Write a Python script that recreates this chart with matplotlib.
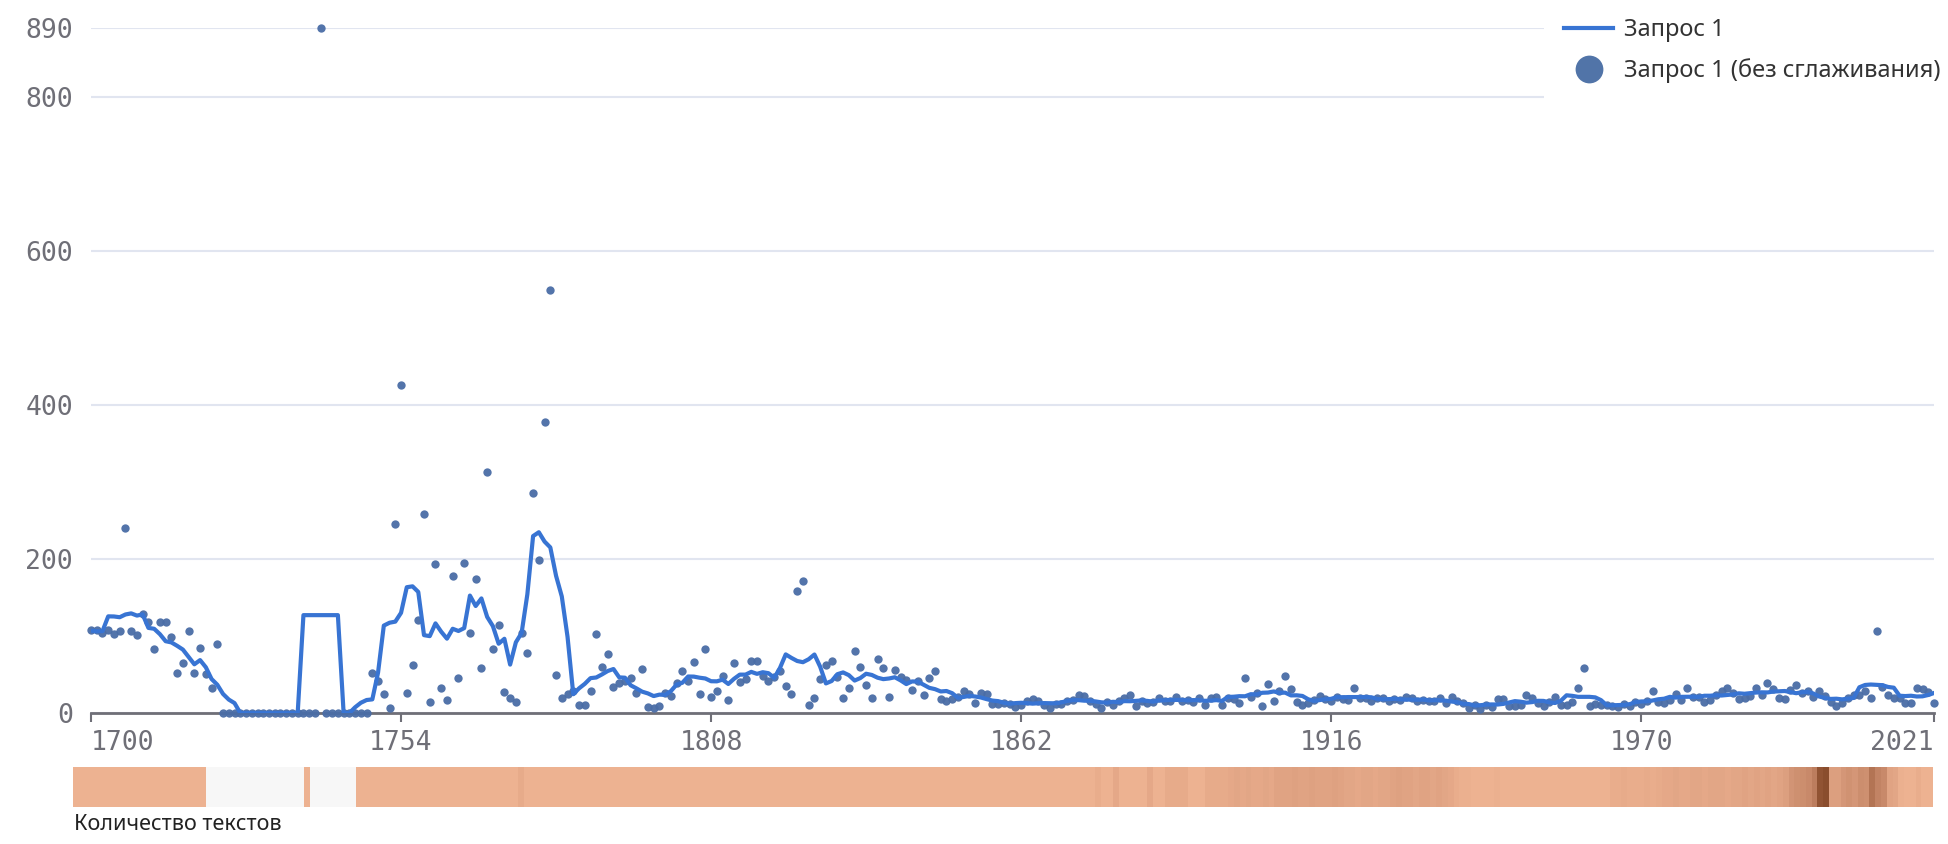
import numpy as np
import pandas as pd
import matplotlib
matplotlib.use("Agg")
from matplotlib import pyplot as plt
from matplotlib.lines import Line2D
from matplotlib.colors import LinearSegmentedColormap, Normalize

# data, one value per year 1700..2021
first_year = 1700
last_year = 2021

raw_counts = [
    108, 108, 104, 108, 103, 107, 241, 107, 101, 129,   # 1700
    118, 83, 118, 118, 99, 52, 65, 107, 52, 84,         # 1710
    51, 32, 90, 0, 0, 0, 0, 0, 0, 0,                    # 1720
    0, 0, 0, 0, 0, 0, 0, 0, 0, 0,                       # 1730
    890, 0, 0, 0, 0, 0, 0, 0, 0, 52,                    # 1740
    41, 25, 6, 245, 426, 26, 62, 121, 258, 14,          # 1750
    194, 33, 17, 178, 45, 195, 104, 174, 59, 313,       # 1760
    83, 114, 27, 20, 14, 104, 78, 286, 199, 378,        # 1770
    550, 49, 19, 25, 28, 11, 11, 28, 102, 60,           # 1780
    77, 34, 39, 42, 46, 26, 57, 8, 6, 9,                # 1790
    26, 22, 39, 55, 42, 66, 25, 83, 21, 29,             # 1800
    48, 17, 65, 40, 44, 68, 67, 48, 42, 47,             # 1810
    55, 35, 25, 158, 171, 10, 19, 44, 62, 68,           # 1820
    47, 19, 32, 81, 60, 37, 19, 70, 58, 21,             # 1830
    56, 47, 43, 30, 42, 24, 45, 55, 18, 15,             # 1840
    18, 21, 28, 25, 13, 26, 25, 12, 12, 13,             # 1850
    12, 8, 11, 16, 18, 15, 10, 7, 12, 12,               # 1860
    15, 17, 24, 22, 15, 12, 7, 14, 11, 16,              # 1870
    19, 23, 9, 16, 13, 14, 20, 15, 16, 21,              # 1880
    16, 17, 14, 20, 10, 19, 21, 10, 19, 18,             # 1890
    13, 46, 21, 26, 9, 38, 16, 28, 48, 31,              # 1900
    14, 10, 13, 17, 22, 18, 16, 21, 18, 17,             # 1910
    33, 20, 20, 16, 20, 19, 15, 18, 17, 21,             # 1920
    19, 15, 17, 15, 16, 19, 13, 21, 15, 13,             # 1930
    7, 10, 5, 10, 8, 18, 18, 9, 9, 11,                  # 1940
    23, 20, 13, 9, 14, 21, 10, 10, 14, 33,              # 1950
    59, 9, 12, 10, 10, 9, 8, 12, 9, 14,                 # 1960
    12, 16, 28, 14, 13, 17, 25, 17, 33, 21,             # 1970
    21, 14, 17, 23, 28, 33, 26, 18, 19, 22,             # 1980
    33, 24, 39, 31, 20, 18, 30, 36, 26, 29,             # 1990
    21, 29, 22, 14, 9, 13, 20, 23, 23, 29,              # 2000
    20, 106, 34, 24, 20, 20, 13, 13, 33, 31,            # 2010
    27, 13,                                             # 2020
]

# relative number of texts per year (strip under the chart), 0 = no texts
text_counts = [
    1, 1, 1, 1, 1, 1, 1, 1, 1, 1,                       # 1700
    1, 1, 1, 1, 1, 1, 1, 1, 1, 1,                       # 1710
    1, 1, 1, 0, 0, 0, 0, 0, 0, 0,                       # 1720
    0, 0, 0, 0, 0, 0, 0, 0, 0, 0,                       # 1730
    1, 0, 0, 0, 0, 0, 0, 0, 0, 1,                       # 1740
    1, 1, 1, 1, 1, 1, 1, 1, 1, 1,                       # 1750
    1, 1, 1, 1, 1, 1, 1, 1, 1, 1,                       # 1760
    1, 1, 1, 1, 1, 1, 1, 1.3, 1, 1,                     # 1770
    1, 1, 1, 1, 1, 1, 1, 1, 1, 1,                       # 1780
    1, 1, 1, 1, 1, 1, 1, 1, 1, 1,                       # 1790
    1, 1, 1, 1, 1, 1, 1, 1, 1, 1,                       # 1800
    1, 1, 1, 1, 1, 1, 1, 1, 1, 1,                       # 1810
    1, 1, 1, 1, 1, 1, 1, 1, 1, 1,                       # 1820
    1, 1, 1, 1, 1, 1, 1, 1, 1, 1,                       # 1830
    1, 1, 1, 1, 1, 1, 1, 1, 1, 1,                       # 1840
    1, 1, 1, 1, 1, 1, 1, 1, 1, 1,                       # 1850
    1, 1, 1, 1, 1, 1, 1, 1, 1, 1,                       # 1860
    1, 1, 1, 1, 1, 1, 1, 1.2, 1, 1,                     # 1870
    1.4, 1, 1, 1, 1, 1, 1.4, 1, 1, 1.3,                 # 1880
    1.3, 1.3, 1.3, 1, 1, 1, 1.3, 1.3, 1.3, 1.3,         # 1890
    1.4, 1.5, 1.4, 1.5, 1.4, 1.4, 1.5, 1.4, 1.6, 1.6,   # 1900
    1.6, 1.7, 1.6, 1.6, 1.7, 1.6, 1.6, 1.6, 1.7, 1.6,   # 1910
    1.5, 1.5, 1.4, 1.5, 1.5, 1.4, 1.5, 1.5, 1.6, 1.7,   # 1920
    1.6, 1.6, 1.5, 1.6, 1.6, 1.5, 1.6, 1.5, 1.4, 1.2,   # 1930
    1.1, 1.1, 1, 1, 1, 1, 1.1, 1, 1, 1,                 # 1940
    1, 1, 1, 1, 1, 1, 1, 1, 1, 1,                       # 1950
    1, 1, 1, 1, 1, 1, 1.2, 1.2, 1.3, 1.2,               # 1960
    1.2, 1.2, 1.3, 1.2, 1.3, 1.4, 1.4, 1.5, 1.4, 1.4,   # 1970
    1.5, 1.5, 1.4, 1.5, 1.5, 1.5, 1.4, 1.5, 1.5, 1.6,   # 1980
    1.5, 1.6, 1.5, 1.6, 1.5, 1.6, 1.8, 2.3, 2.5, 2.6,   # 1990
    2.8, 3.2, 5.5, 6.0, 1.8, 1.8, 2.2, 2.4, 2.2, 2.6,   # 2000
    2.5, 3.5, 3.0, 2.8, 1.6, 1.5, 1.1, 1, 1, 1.2,       # 2010
    1, 1,                                               # 2020
]

x_ticks = [1700, 1754, 1808, 1862, 1916, 1970, 2021]
y_ticks = [0, 200, 400, 600, 800, 890]
series_name = "Запрос 1"
raw_name = "Запрос 1 (без сглаживания)"
strip_label = "Количество текстов"
window = 7  # smoothing window of the line, years

years = np.arange(first_year, last_year + 1)
raw = pd.Series(raw_counts, index=years, dtype=float)
smooth = raw.rolling(window, center=True, min_periods=1).mean()

W, H = 1948, 844
fig = plt.figure(figsize=(W / 100, H / 100), dpi=100)
ax = fig.add_axes([91 / W, 131 / H, 1843 / W, 685 / H])

ax.scatter(years, raw.values, s=36, color="#4A6DA6", alpha=0.95,
           linewidths=0, zorder=3, clip_on=False)
ax.plot(years, smooth.values, color="#3874D3", lw=3, zorder=4,
        solid_joinstyle="round")

ax.set_xlim(first_year, last_year)
ax.set_ylim(0, 890)
ax.set_yticks(y_ticks)
ax.set_xticks(x_ticks)
ax.yaxis.grid(True, color="#E1E5F0", lw=1.5)
ax.set_axisbelow(True)
for s in ["top", "right", "left"]:
    ax.spines[s].set_visible(False)
ax.spines["bottom"].set_color("#6F6F77")
ax.spines["bottom"].set_linewidth(2)

mono = "DejaVu Sans Mono"
ax.tick_params(axis="y", length=0, pad=13, labelsize=19, labelcolor="#6F6F77")
ax.tick_params(axis="x", length=6.5, width=1.5, color="#6F6F77", pad=6,
               labelsize=19, labelcolor="#6F6F77")
for lab in ax.get_xticklabels() + ax.get_yticklabels():
    lab.set_family(mono)
xlabels = ax.get_xticklabels()
xlabels[0].set_ha("left")
xlabels[-1].set_ha("right")

handles = [
    Line2D([], [], color="#3874D3", lw=3),
    Line2D([], [], ls="none", marker="o", markersize=20,
           markerfacecolor="#5174A8", markeredgewidth=0),
]
leg = ax.legend(handles, [series_name, raw_name], loc="upper left",
                bbox_to_anchor=(1532 / W, 1.016), bbox_transform=fig.transFigure,
                frameon=True, facecolor="white", edgecolor="none", framealpha=1,
                fancybox=False, borderpad=0.85, handlelength=2.1,
                handletextpad=0.45, labelspacing=0.68,
                prop={"family": "Noto Sans", "size": 17})
for t in leg.get_texts():
    t.set_color("#333333")

# strip with number of texts
cmap = LinearSegmentedColormap.from_list(
    "texts", [(0.0, "#EDB291"), (0.12, "#E0A383"), (0.36, "#C8896A"),
              (0.6, "#A56545"), (1.0, "#8A4D2D")])
norm = Normalize(1, 6)
colors = [cmap(norm(c)) if c > 0 else "#F7F7F7" for c in text_counts]
ax2 = fig.add_axes([73 / W, 37 / H, 1860 / W, 40 / H])
ax2.bar(years, 1, width=1, align="edge", color=colors, linewidth=0)
ax2.set_xlim(first_year, last_year + 1)
ax2.set_ylim(0, 1)
ax2.axis("off")

fig.text(74 / W, 1 - 824 / H, strip_label, va="center", ha="left",
         fontsize=15.5, family="Noto Sans", color="#222222")

fig.savefig("out.png", dpi=100, facecolor="white")
